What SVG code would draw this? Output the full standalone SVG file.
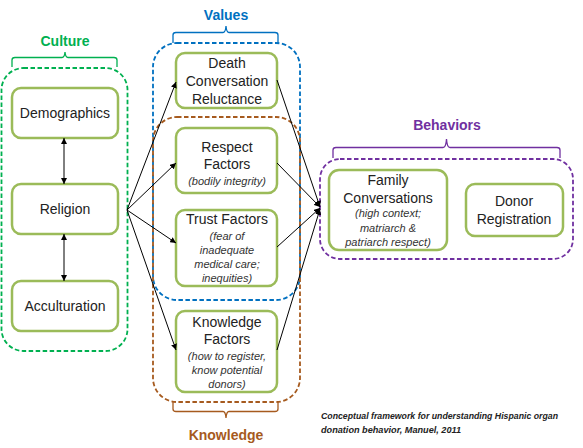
<svg xmlns="http://www.w3.org/2000/svg" width="583" height="448" viewBox="0 0 583 448">
<defs>
<marker id="ah" viewBox="0 0 10 10" refX="10" refY="5" markerWidth="6" markerHeight="6" orient="auto-start-reverse" markerUnits="userSpaceOnUse">
<path d="M0,0 L10,5 L0,10 z" fill="#000"/>
</marker>
<style>
.node{fill:#fff;stroke:#9BBB59;stroke-width:2.5}
.grp{fill:none;stroke-width:1.8;stroke-dasharray:4.5 2.5}
.t{font-family:"Liberation Sans",Arial,sans-serif;font-size:14px;fill:#222;text-anchor:middle}
.i{font-family:"Liberation Sans",Arial,sans-serif;font-size:11px;font-style:italic;fill:#333;text-anchor:middle}
.h{font-family:"Liberation Sans",Arial,sans-serif;font-size:14px;font-weight:bold;text-anchor:middle}
.c{font-family:"Liberation Sans",Arial,sans-serif;font-size:9px;font-style:italic;font-weight:bold;fill:#222}
.con{stroke:#000;stroke-width:1;fill:none;marker-end:url(#ah)}
.br{fill:none;stroke-width:1.3}
</style>
</defs>
<rect width="583" height="448" fill="#fff"/>

<g id="group-culture">
<rect class="grp" x="1.5" y="68" width="126" height="283" rx="22" stroke="#00B050"/>
<path class="br" stroke="#00B050" d="M12,67 V60 Q12,57.5 15,57.5 H62 Q64.5,57.5 65,52 Q65.5,57.5 68,57.5 H114 Q117,57.5 117,60 V67"/>
<text class="h" x="65" y="46" fill="#00B050">Culture</text>
</g>
<g id="group-values">
<rect class="grp" x="153" y="43" width="147" height="257" rx="24" stroke="#0070C0"/>
<path class="br" stroke="#0070C0" d="M173,43 V35 Q173,32.5 176,32.5 H223 Q225.5,32.5 226,26 Q226.5,32.5 229,32.5 H275 Q278,32.5 278,35 V43"/>
<text class="h" x="226" y="20" fill="#0070C0">Values</text>
</g>
<g id="group-knowledge">
<rect class="grp" x="153" y="117" width="147" height="285" rx="24" stroke="#A65A1E"/>
<path class="br" stroke="#A65A1E" d="M173,402 V409 Q173,411.5 176,411.5 H223 Q225.5,411.5 226,418 Q226.5,411.5 229,411.5 H275 Q278,411.5 278,409 V402"/>
<text class="h" x="226" y="440" fill="#A65A1E">Knowledge</text>
</g>
<g id="group-behaviors">
<rect class="grp" x="320" y="159" width="253" height="100" rx="20" stroke="#7030A0"/>
<path class="br" stroke="#7030A0" d="M333,158 V150 Q333,147.5 336,147.5 H443 Q446,147.5 446.5,139 Q447,147.5 450,147.5 H557 Q560,147.5 560,150 V158"/>
<text class="h" x="447" y="130" fill="#7030A0">Behaviors</text>
</g>

<g id="demographics"><rect class="node" x="12" y="88" width="106" height="50" rx="9"/><text class="t" x="65" y="118">Demographics</text></g>
<g id="religion"><rect class="node" x="12" y="184" width="106" height="50" rx="9"/><text class="t" x="65" y="214">Religion</text></g>
<g id="acculturation"><rect class="node" x="12" y="281" width="106" height="50" rx="9"/><text class="t" x="65" y="311">Acculturation</text></g>

<g id="death"><rect class="node" x="176" y="53" width="101" height="55" rx="9"/>
<text class="t" x="227" y="68">Death</text><text class="t" x="227" y="86">Conversation</text><text class="t" x="227" y="104">Reluctance</text></g>
<g id="respect"><rect class="node" x="176" y="128" width="101" height="65" rx="9"/>
<text class="t" x="227" y="152">Respect</text><text class="t" x="227" y="169">Factors</text><text class="i" x="227" y="185">(bodily integrity)</text></g>
<g id="trust"><rect class="node" x="176" y="210" width="101" height="76" rx="9"/>
<text class="t" x="227" y="224">Trust Factors</text><text class="i" x="227" y="240">(fear of</text><text class="i" x="227" y="254">inadequate</text><text class="i" x="227" y="268">medical care;</text><text class="i" x="227" y="282">inequities)</text></g>
<g id="knowledge"><rect class="node" x="176" y="311" width="101" height="81" rx="9"/>
<text class="t" x="227" y="327">Knowledge</text><text class="t" x="227" y="344">Factors</text><text class="i" x="227" y="360">(how to register,</text><text class="i" x="227" y="374">know potential</text><text class="i" x="227" y="388">donors)</text></g>

<g id="family"><rect class="node" x="329" y="170" width="118" height="80" rx="10"/>
<text class="t" x="388" y="185">Family</text><text class="t" x="388" y="203">Conversations</text><text class="i" x="388" y="217">(high context;</text><text class="i" x="388" y="232">matriarch &amp;</text><text class="i" x="388" y="246">patriarch respect)</text></g>
<g id="donor"><rect class="node" x="466" y="184" width="97" height="52" rx="9"/>
<text class="t" x="514" y="206">Donor</text><text class="t" x="514" y="224">Registration</text></g>

<g id="connectors">
<line class="con" x1="64" y1="138" x2="64" y2="184" marker-start="url(#ah)"/>
<line class="con" x1="64" y1="234" x2="64" y2="281" marker-start="url(#ah)"/>
<line class="con" x1="127" y1="210" x2="176" y2="82"/>
<line class="con" x1="127" y1="210" x2="176" y2="163"/>
<line class="con" x1="127" y1="210" x2="176" y2="243"/>
<line class="con" x1="127" y1="210" x2="176" y2="350"/>
<line class="con" x1="277" y1="80" x2="320" y2="207"/>
<line class="con" x1="277" y1="163" x2="320" y2="207"/>
<line class="con" x1="277" y1="247" x2="320" y2="208"/>
<line class="con" x1="277" y1="350" x2="320" y2="209"/>
</g>

<g id="caption">
<text class="c" x="321" y="419" textLength="237" lengthAdjust="spacingAndGlyphs">Conceptual framework for understanding Hispanic organ</text>
<text class="c" x="321" y="433" textLength="140" lengthAdjust="spacingAndGlyphs">donation behavior, Manuel, 2011</text>
</g>
</svg>
